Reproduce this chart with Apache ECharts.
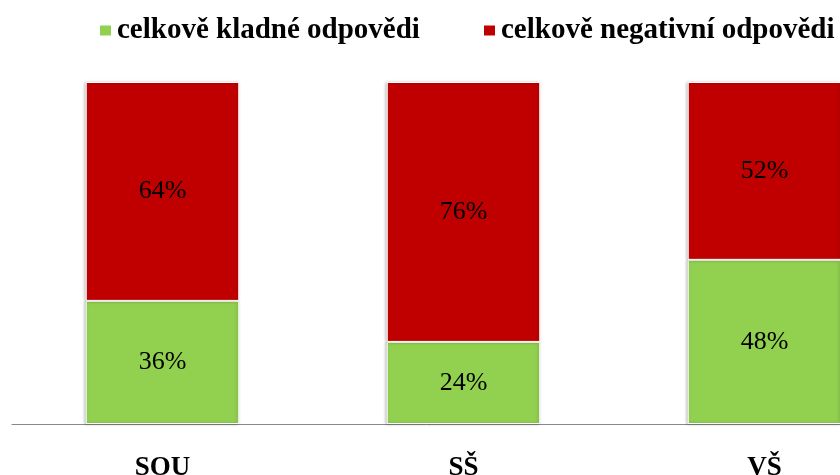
<!DOCTYPE html>
<html>
<head>
<meta charset="utf-8">
<script src="https://cdn.jsdelivr.net/npm/echarts@6/dist/echarts.min.js"></script>
<style>
  html, body { margin: 0; padding: 0; background: #fff; }
  #mainChart { width: 840px; height: 475px; }
</style>
</head>
<body>
<div id="mainChart"></div>
<script>
var categories = ["SOU", "SŠ", "VŠ"];
var positive = [36, 24, 48];
var negative = [64, 76, 52];
var seriesNames = ["celkově kladné odpovědi", "celkově negativní odpovědi"];

var chart = echarts.init(document.getElementById("mainChart"));
var serif = "'Liberation Serif', 'DejaVu Serif', serif";

var labelStyle = {
  show: true,
  position: "inside",
  formatter: "{c}%",
  color: "#000",
  fontFamily: serif,
  fontSize: 26,
};

var legendText = {
  fontFamily: serif,
  fontWeight: "bold",
  fontSize: 29,
  color: "#000",
};

var option = {
  animation: false,
  legend: [
    {
      data: [seriesNames[0]],
      left: 93,
      top: 11,
      itemWidth: 13,
      itemHeight: 12,
      icon: "rect",
      textStyle: legendText,
    },
    {
      data: [seriesNames[1]],
      left: 477,
      top: 11,
      itemWidth: 13,
      itemHeight: 12,
      icon: "rect",
      textStyle: legendText,
    },
  ],
  grid: {
    left: 12,
    top: 82,
    width: 903,
    height: 342,
    outerBoundsMode: "none",
    containLabel: false,
  },
  xAxis: {
    type: "category",
    data: categories,
    axisTick: { show: false },
    axisLine: { lineStyle: { color: "#888", width: 1 } },
    axisLabel: {
      color: "#000",
      fontFamily: serif,
      fontWeight: "bold",
      fontSize: 27,
      margin: 31,
    },
  },
  yAxis: {
    type: "value",
    min: 0,
    max: 100,
    show: false,
  },
  series: [
    {
      name: seriesNames[0],
      type: "bar",
      stack: "total",
      barWidth: "51%",
      data: positive,
      itemStyle: {
        color: "#92D050",
        borderColor: "#fff",
        borderWidth: 1,
        shadowColor: "rgba(0,0,0,0.25)",
        shadowBlur: 3,
        shadowOffsetX: -1,
      },
      label: labelStyle,
    },
    {
      name: seriesNames[1],
      type: "bar",
      stack: "total",
      barWidth: "51%",
      data: negative,
      itemStyle: {
        color: "#C00000",
        borderColor: "#fff",
        borderWidth: 1,
        shadowColor: "rgba(0,0,0,0.25)",
        shadowBlur: 3,
        shadowOffsetX: -1,
      },
      label: labelStyle,
    },
  ],
};
chart.setOption(option);
</script>
</body>
</html>
